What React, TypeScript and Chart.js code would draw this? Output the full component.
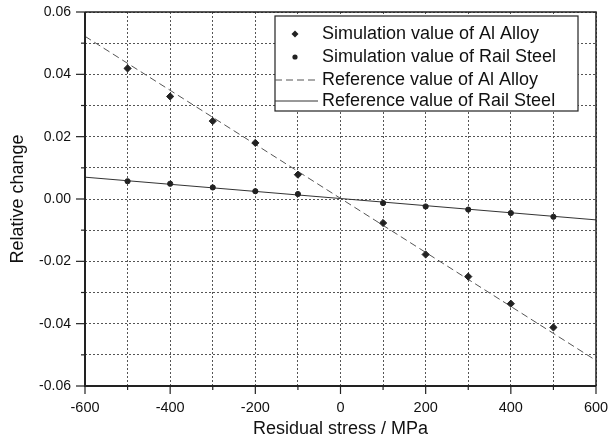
import React, { useEffect, useRef } from "react";
import { Chart, registerables } from "chart.js";

Chart.register(...registerables);

const stressValues = [-500, -400, -300, -200, -100, 100, 200, 300, 400, 500];
const alAlloySim = [0.0419, 0.0329, 0.025, 0.018, 0.0078, -0.0077, -0.0178, -0.0249, -0.0336, -0.0412];
const railSteelSim = [0.0057, 0.0049, 0.0037, 0.0025, 0.0016, -0.0013, -0.0024, -0.0034, -0.0045, -0.0057];
const refX = [-600, 600];
const alAlloyRef = [0.0522, -0.0518];
const railSteelRef = [0.007, -0.0067];
const seriesLabels = [
  "Simulation value of Al Alloy",
  "Simulation value of Rail Steel",
  "Reference value of Al Alloy",
  "Reference value of Rail Steel",
];
const xTickValues = [-600, -500, -400, -300, -200, -100, 0, 100, 200, 300, 400, 500, 600];
const yTickValues = [-0.06, -0.05, -0.04, -0.03, -0.02, -0.01, 0, 0.01, 0.02, 0.03, 0.04, 0.05, 0.06];

const FONT = "'Liberation Sans', Arial, sans-serif";
const INK = "#222";

const framePlugin = {
  id: "frameAndLegend",
  afterDraw(chart: any) {
    const ctx = chart.ctx as CanvasRenderingContext2D;
    const { left, right, top, bottom } = chart.chartArea;
    const xs = chart.scales.x;
    const ys = chart.scales.y;
    ctx.save();
    // frame
    ctx.strokeStyle = INK;
    ctx.lineWidth = 1.5;
    ctx.beginPath();
    ctx.moveTo(left, top);
    ctx.lineTo(right, top);
    ctx.lineTo(right, bottom);
    ctx.stroke();
    ctx.lineWidth = 2;
    ctx.beginPath();
    ctx.moveTo(left, top);
    ctx.lineTo(left, bottom);
    ctx.lineTo(right, bottom);
    ctx.stroke();
    // ticks
    ctx.lineWidth = 1.2;
    xTickValues.forEach((v) => {
      const px = xs.getPixelForValue(v);
      const len = v % 200 === 0 ? 8 : 4;
      ctx.beginPath();
      ctx.moveTo(px, bottom);
      ctx.lineTo(px, bottom + len);
      ctx.stroke();
    });
    yTickValues.forEach((v) => {
      const py = ys.getPixelForValue(v);
      const len = Math.round(v * 100) % 2 === 0 ? 9 : 4;
      ctx.beginPath();
      ctx.moveTo(left, py);
      ctx.lineTo(left - len, py);
      ctx.stroke();
    });

    // legend
    const bx = 275, by = 16, bw = 303, bh = 95;
    ctx.fillStyle = "#fff";
    ctx.fillRect(bx, by, bw, bh);
    ctx.strokeStyle = INK;
    ctx.lineWidth = 1.2;
    ctx.strokeRect(bx, by, bw, bh);
    const rows = [34, 57, 80, 101];
    const ds = chart.data.datasets;
    ctx.font = `18px ${FONT}`;
    ctx.textBaseline = "middle";
    ctx.textAlign = "left";
    ds.forEach((d: any, i: number) => {
      const y = rows[i];
      if (d.showLine === false) {
        ctx.fillStyle = d.backgroundColor;
        ctx.beginPath();
        if (d.pointStyle === "rectRot") {
          const r = 3.5;
          ctx.moveTo(295, y - r);
          ctx.lineTo(295 + r, y);
          ctx.lineTo(295, y + r);
          ctx.lineTo(295 - r, y);
          ctx.closePath();
        } else {
          ctx.arc(295, y, 2.6, 0, Math.PI * 2);
        }
        ctx.fill();
      } else {
        ctx.strokeStyle = d.borderColor;
        ctx.lineWidth = d.borderWidth;
        ctx.setLineDash(d.borderDash || []);
        ctx.beginPath();
        ctx.moveTo(bx, y);
        ctx.lineTo(318, y);
        ctx.stroke();
        ctx.setLineDash([]);
      }
      ctx.fillStyle = "#111";
      ctx.fillText(d.label, 322, y);
    });
    ctx.restore();
  },
};

export default function App() {
  const ref = useRef<HTMLCanvasElement | null>(null);
  useEffect(() => {
    if (!ref.current) return;
    const chart = new Chart(ref.current, {
      type: "scatter",
      data: {
        datasets: [
          {
            label: seriesLabels[0],
            data: stressValues.map((x, i) => ({ x, y: alAlloySim[i] })),
            showLine: false,
            pointStyle: "rectRot",
            pointRadius: 3.6,
            backgroundColor: INK,
            borderColor: INK,
            borderWidth: 1,
          },
          {
            label: seriesLabels[1],
            data: stressValues.map((x, i) => ({ x, y: railSteelSim[i] })),
            showLine: false,
            pointStyle: "circle",
            pointRadius: 2.6,
            backgroundColor: INK,
            borderColor: INK,
            borderWidth: 1,
          },
          {
            label: seriesLabels[2],
            data: refX.map((x, i) => ({ x, y: alAlloyRef[i] })),
            showLine: true,
            pointRadius: 0,
            borderColor: "#555",
            borderWidth: 1,
            borderDash: [7, 4],
          },
          {
            label: seriesLabels[3],
            data: refX.map((x, i) => ({ x, y: railSteelRef[i] })),
            showLine: true,
            pointRadius: 0,
            borderColor: "#333",
            borderWidth: 1,
          },
        ],
      } as any,
      options: {
        animation: false,
        responsive: false,
        devicePixelRatio: 1,
        layout: { padding: { top: 12, right: 18, left: 0, bottom: 0 } },
        plugins: { legend: { display: false }, tooltip: { enabled: false } },
        scales: {
          x: {
            type: "linear",
            min: -600,
            max: 600,
            afterFit: (s: any) => {
              s.height = 55;
              s.paddingLeft = 0;
              s.paddingRight = 0;
            },
            afterBuildTicks: (s: any) => {
              s.ticks = xTickValues.map((v) => ({ value: v }));
            },
            ticks: {
              autoSkip: false,
              maxRotation: 0,
              padding: 13,
              color: "#111",
              font: { family: FONT, size: 14.5 },
              callback: (v: any) => (Number(v) % 200 === 0 ? String(v) : ""),
            },
            grid: { color: "#555", lineWidth: 1, drawTicks: false },
            border: { display: false, dash: [2, 2] },
            title: {
              display: true,
              text: "Residual stress / MPa",
              color: "#111",
              font: { family: FONT, size: 18 },
              padding: { top: 0, bottom: 1 },
            },
          },
          y: {
            type: "linear",
            min: -0.06,
            max: 0.06,
            afterFit: (s: any) => {
              s.width = 85;
              s.paddingTop = 0;
              s.paddingBottom = 0;
            },
            afterBuildTicks: (s: any) => {
              s.ticks = yTickValues.map((v) => ({ value: v }));
            },
            ticks: {
              autoSkip: false,
              padding: 14,
              color: "#111",
              font: { family: FONT, size: 14 },
              callback: (v: any) => {
                const n = Math.round(Number(v) * 100);
                return n % 2 === 0 ? (n / 100).toFixed(2) : "";
              },
            },
            grid: { color: "#555", lineWidth: 1, drawTicks: false },
            border: { display: false, dash: [2, 2] },
            title: {
              display: true,
              text: "Relative change",
              color: "#111",
              font: { family: FONT, size: 18 },
              padding: { top: 7, bottom: 0 },
            },
          },
        },
      } as any,
      plugins: [framePlugin],
    });
    return () => chart.destroy();
  }, []);
  return (
    <div style={{ position: "absolute", left: 0, top: 0, width: 614, height: 441, background: "#fff" }}>
      <canvas ref={ref} width={614} height={441} style={{ width: 614, height: 441, display: "block" }} />
    </div>
  );
}
